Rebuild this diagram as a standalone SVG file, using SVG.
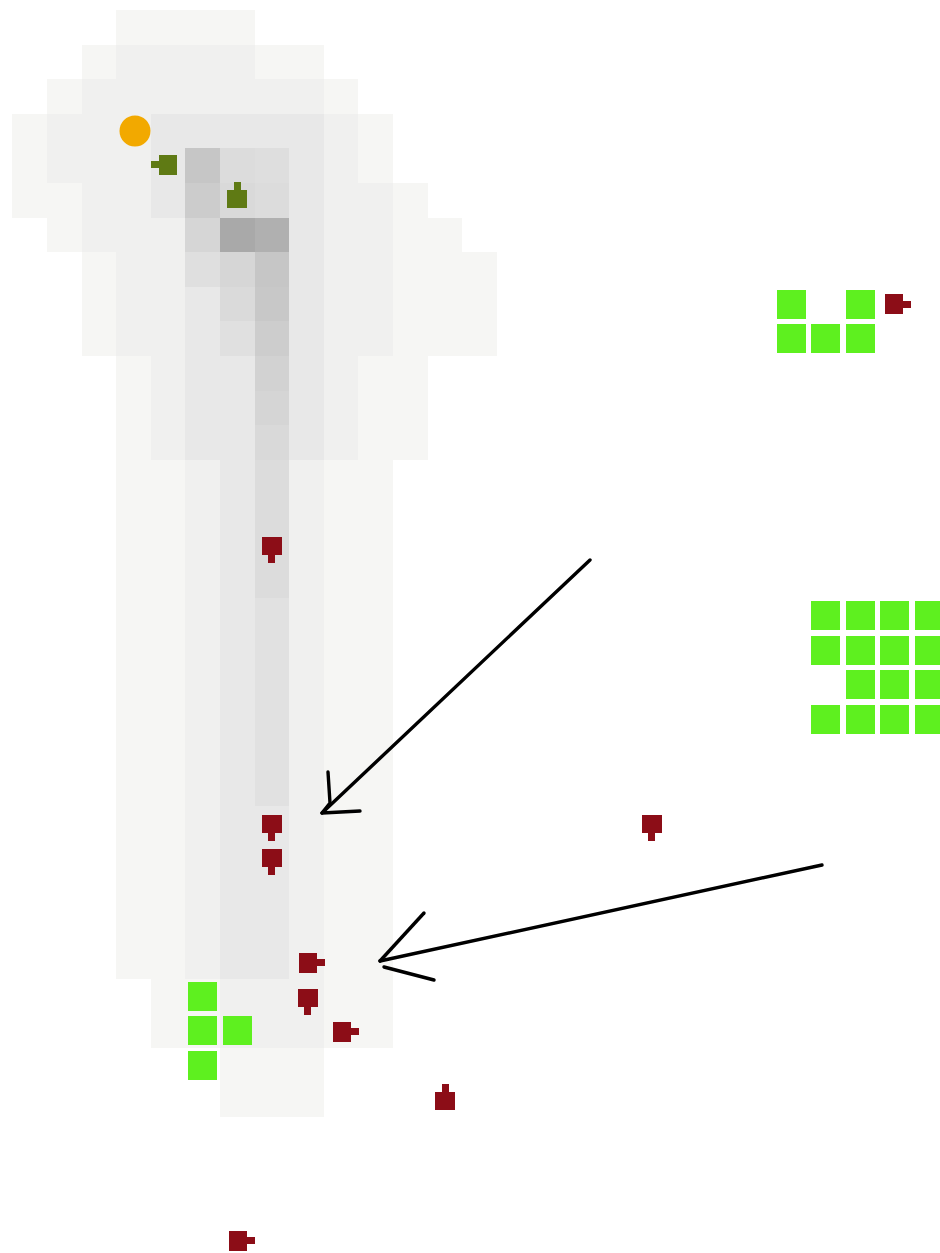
<svg xmlns="http://www.w3.org/2000/svg" xmlns:xlink="http://www.w3.org/1999/xlink" width="940" height="1253" viewBox="0 0 940 1253">
<style>
.a{fill:#f6f6f4}.b{fill:#f0f0ef}.c{fill:#e8e8e8}
.g{fill:#5ef01f}
.red{fill:#8c0d17}.olive{fill:#5f7a14}
.arrow{fill:none;stroke:#000;stroke-width:3.4;stroke-linecap:round;stroke-linejoin:round}
rect{shape-rendering:crispEdges}
</style>
<defs>
<g id="tank"><rect x="-10" y="-9" width="20" height="18"/><rect x="-3.5" y="9" width="7" height="8"/></g>
<rect id="sq" width="29" height="29"/>
</defs>
<rect width="940" height="1253" fill="#ffffff"/>
<g id="heatmap">
<rect class="a" x="116.2" y="10" width="138.4" height="34.8"/>
<rect class="a" x="81.6" y="44.6" width="242.2" height="34.8"/>
<rect class="a" x="47" y="79.2" width="311.4" height="34.8"/>
<rect class="a" x="12.4" y="113.8" width="380.6" height="69.4"/>
<rect class="a" x="12.4" y="183" width="415.2" height="34.8"/>
<rect class="a" x="47" y="217.6" width="415.2" height="34.8"/>
<rect class="a" x="81.6" y="252.2" width="415.2" height="104"/>
<rect class="a" x="116.2" y="356" width="311.4" height="104"/>
<rect class="a" x="116.2" y="459.8" width="276.8" height="519.2"/>
<rect class="a" x="150.8" y="978.8" width="242.2" height="69.4"/>
<rect class="a" x="220" y="1048" width="103.8" height="69.2"/>
<rect class="b" x="116.2" y="44.6" width="138.4" height="34.8"/>
<rect class="b" x="81.6" y="79.2" width="242.2" height="34.8"/>
<rect class="b" x="47" y="113.8" width="311.4" height="69.4"/>
<rect class="b" x="81.6" y="183" width="311.4" height="69.4"/>
<rect class="b" x="116.2" y="252.2" width="276.8" height="104"/>
<rect class="b" x="150.8" y="356" width="207.6" height="104"/>
<rect class="b" x="185.4" y="459.8" width="138.4" height="519.2"/>
<rect class="b" x="220" y="978.8" width="103.8" height="69.4"/>
<rect class="c" x="150.8" y="113.8" width="173" height="34.8"/>
<rect class="c" x="150.8" y="148.4" width="173" height="69.4"/>
<rect class="c" x="185.4" y="217.6" width="138.4" height="242.4"/>
<rect class="c" x="220" y="459.8" width="69.2" height="519.2"/>
<rect fill="#c6c6c6" x="185.4" y="148.4" width="34.8" height="34.8"/>
<rect fill="#dcdcdc" x="220" y="148.4" width="34.8" height="34.8"/>
<rect fill="#dedede" x="254.6" y="148.4" width="34.8" height="34.8"/>
<rect fill="#cccccc" x="185.4" y="183" width="34.8" height="34.8"/>
<rect fill="#d9d9d9" x="220" y="183" width="34.8" height="34.8"/>
<rect fill="#dcdcdc" x="254.6" y="183" width="34.8" height="34.8"/>
<rect fill="#d6d6d6" x="185.4" y="217.6" width="34.8" height="34.8"/>
<rect fill="#a9a9a9" x="220" y="217.6" width="34.8" height="34.8"/>
<rect fill="#b0b0b0" x="254.6" y="217.6" width="34.8" height="34.8"/>
<rect fill="#dfdfdf" x="185.4" y="252.2" width="34.8" height="34.8"/>
<rect fill="#d6d6d6" x="220" y="252.2" width="34.8" height="34.8"/>
<rect fill="#c6c6c6" x="254.6" y="252.2" width="34.8" height="34.8"/>
<rect fill="#dadada" x="220" y="286.8" width="34.8" height="34.8"/>
<rect fill="#c8c8c8" x="254.6" y="286.8" width="34.8" height="34.8"/>
<rect fill="#e0e0e0" x="220" y="321.4" width="34.8" height="34.8"/>
<rect fill="#cdcdcd" x="254.6" y="321.4" width="34.8" height="34.8"/>
<rect fill="#d2d2d2" x="254.6" y="356" width="34.8" height="34.8"/>
<rect fill="#d5d5d5" x="254.6" y="390.6" width="34.8" height="34.8"/>
<rect fill="#d9d9d9" x="254.6" y="425.2" width="34.8" height="34.8"/>
<rect fill="#dcdcdc" x="254.6" y="459.8" width="34.8" height="138.6"/>
<rect fill="#e1e1e1" x="254.6" y="598.2" width="34.8" height="207.6"/>
</g>
<g id="orange-unit"><circle cx="135" cy="131" r="15.5" fill="#f2a900"/></g>
<g id="olive-units" class="olive">
<use xlink:href="#tank" transform="translate(168.1,164.5) rotate(90)"/>
<use xlink:href="#tank" transform="translate(237.3,198.5) rotate(180)"/>
</g>
<g id="red-units" class="red">
<use xlink:href="#tank" transform="translate(271.9,546.3)"/>
<use xlink:href="#tank" transform="translate(271.9,823.6)"/>
<use xlink:href="#tank" transform="translate(271.9,858.2)"/>
<use xlink:href="#tank" transform="translate(307.5,962.5) rotate(-90)"/>
<use xlink:href="#tank" transform="translate(307.5,997.5)"/>
<use xlink:href="#tank" transform="translate(342,1031.5) rotate(-90)"/>
<use xlink:href="#tank" transform="translate(445,1101) rotate(180)"/>
<use xlink:href="#tank" transform="translate(238,1240.5) rotate(-90)"/>
<use xlink:href="#tank" transform="translate(893.5,304) rotate(-90)"/>
<use xlink:href="#tank" transform="translate(651.8,824)"/>
</g>
<g id="green-top" class="g">
<use xlink:href="#sq" x="776.6" y="289.8"/>
<use xlink:href="#sq" x="845.8" y="289.8"/>
<use xlink:href="#sq" x="776.6" y="324.4"/>
<use xlink:href="#sq" x="811.2" y="324.4"/>
<use xlink:href="#sq" x="845.8" y="324.4"/>
</g>
<g id="green-right" class="g">
<use xlink:href="#sq" x="811.2" y="601.2"/>
<use xlink:href="#sq" x="845.8" y="601.2"/>
<use xlink:href="#sq" x="880.4" y="601.2"/>
<use xlink:href="#sq" x="915" y="601.2"/>
<use xlink:href="#sq" x="811.2" y="635.8"/>
<use xlink:href="#sq" x="845.8" y="635.8"/>
<use xlink:href="#sq" x="880.4" y="635.8"/>
<use xlink:href="#sq" x="915" y="635.8"/>
<use xlink:href="#sq" x="845.8" y="670.4"/>
<use xlink:href="#sq" x="880.4" y="670.4"/>
<use xlink:href="#sq" x="915" y="670.4"/>
<use xlink:href="#sq" x="811.2" y="705"/>
<use xlink:href="#sq" x="845.8" y="705"/>
<use xlink:href="#sq" x="880.4" y="705"/>
<use xlink:href="#sq" x="915" y="705"/>
</g>
<g id="green-bottom" class="g">
<use xlink:href="#sq" x="188.4" y="981.8"/>
<use xlink:href="#sq" x="188.4" y="1016.4"/>
<use xlink:href="#sq" x="223" y="1016.4"/>
<use xlink:href="#sq" x="188.4" y="1051"/>
</g>
<g id="connectors">
<path class="arrow" d="M590,560 L322,813"/>
<path class="arrow" d="M328,772 L330,803 L322,813 L360,811"/>
<path class="arrow" d="M822,865 L380,961"/>
<path class="arrow" d="M424,913 L380,961"/>
<path class="arrow" d="M384,967 L434,980"/>
</g>
</svg>
